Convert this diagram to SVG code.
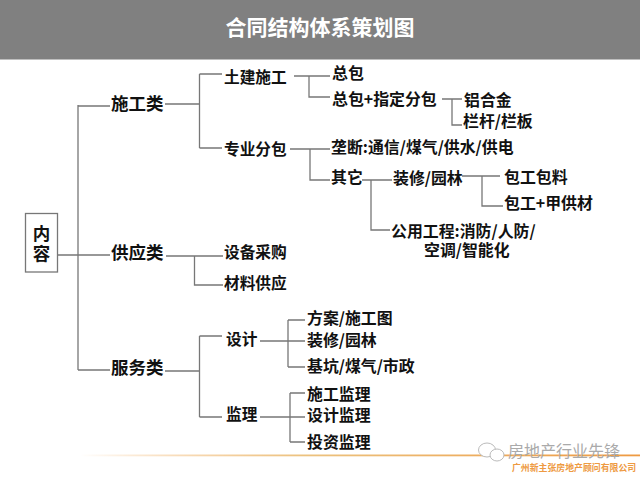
<svg xmlns="http://www.w3.org/2000/svg" width="640" height="480" viewBox="0 0 640 480">
<style>
text{font-family:"Noto Sans CJK SC","Liberation Sans",sans-serif;font-weight:700;fill:#111;dominant-baseline:central}
.a{font-size:17.5px}.b{font-size:15.7px}.c{font-size:15.9px}
.l{fill:none;stroke:#777;stroke-width:1.3}
</style>
<defs><linearGradient id="g" x1="0" x2="1" y1="0" y2="0"><stop offset="0" stop-color="#f2a24a" stop-opacity="0"/><stop offset=".4" stop-color="#ecc27f"/><stop offset="1" stop-color="#ee9a42"/></linearGradient></defs>
<rect id="header" x="0" y="0" width="640" height="59.500" fill="#808080"/>
<text id="title" x="320" y="26" text-anchor="middle" style="font-size:21px;fill:#fff">合同结构体系策划图</text>
<g id="connectors" class="l">
<path d="M57 255H110M78 105V370M78 106H110M78 370H110"/>
<path d="M165 104H199.500M199.500 74V148M199.500 74H222M199.500 148H222"/>
<path d="M294 76H330M309 76V97H330"/>
<path d="M442 99H462M452 99V125H462"/>
<path d="M290 149H330M310 149V180H330"/>
<path d="M362 180H392M371 180V230H390"/>
<path d="M462 176H500M482 176V206H503"/>
<path d="M166 256H223M194.500 256V285H223"/>
<path d="M165 371H199.500M199.500 336V417M199.500 336H222M199.500 417H222"/>
<path d="M260 341H305M288 320V367M288 320H305M288 367H305"/>
<path d="M260 417H305M290 393V442M290 393H305M290 442H305"/>
</g>
<g id="root"><rect x="25.500" y="213.500" width="32" height="58.500" fill="#fff" stroke="#777" stroke-width="1.300"/><text x="41.500" y="232" text-anchor="middle" style="font-size:17.500px">内</text><text x="41.500" y="252" text-anchor="middle" style="font-size:17.500px">容</text></g>
<g id="n1"><text class="a" x="111" y="102">施工类</text></g>
<g id="n2"><text class="a" x="111" y="251">供应类</text></g>
<g id="n3"><text class="a" x="111" y="366">服务类</text></g>
<g id="n4"><text class="b" x="224" y="76">土建施工</text></g>
<g id="n5"><text class="b" x="224" y="148">专业分包</text></g>
<g id="n6"><text class="b" x="224" y="251">设备采购</text></g>
<g id="n7"><text class="b" x="224" y="282">材料供应</text></g>
<g id="n8"><text class="b" x="226" y="338">设计</text></g>
<g id="n9"><text class="b" x="226" y="413">监理</text></g>
<g id="n10"><text class="c" x="332" y="72">总包</text></g>
<g id="n11"><text class="c" x="332" y="98">总包+指定分包</text></g>
<g id="n12"><text class="c" x="464" y="99">铝合金</text></g>
<g id="n13"><text class="c" x="463" y="120">栏杆/栏板</text></g>
<g id="n14"><text class="c" x="331" y="146">垄断:通信/煤气/供水/供电</text></g>
<g id="n15"><text class="c" x="331" y="176">其它</text></g>
<g id="n16"><text class="c" x="393" y="177">装修/园林</text></g>
<g id="n17"><text class="c" x="504" y="176">包工包料</text></g>
<g id="n18"><text class="c" x="504" y="202">包工+甲供材</text></g>
<g id="n19"><text class="c" x="391" y="230">公用工程:消防/人防/</text><text class="c" x="424" y="249.500">空调/智能化</text></g>
<g id="n20"><text class="c" x="307" y="317">方案/施工图</text></g>
<g id="n21"><text class="c" x="307" y="339">装修/园林</text></g>
<g id="n22"><text class="c" x="307" y="365">基坑/煤气/市政</text></g>
<g id="n23"><text class="c" x="307" y="393">施工监理</text></g>
<g id="n24"><text class="c" x="307" y="414">设计监理</text></g>
<g id="n25"><text class="c" x="307" y="441">投资监理</text></g>
<rect x="80" y="454.500" width="560" height="1.800" fill="url(#g)"/>
<g id="wechat" fill="#fff" stroke="#bbb" stroke-width="1"><ellipse cx="487" cy="450" rx="8.500" ry="7"/><ellipse cx="497" cy="455" rx="7" ry="6"/></g>
<text x="508" y="450" style="font-size:16px;font-weight:400;fill:#aaa">房地产行业先锋</text>
<text x="512" y="467" style="font-size:8.900px;fill:#ee9a42">广州新主张房地产顾问有限公司</text>
</svg>
